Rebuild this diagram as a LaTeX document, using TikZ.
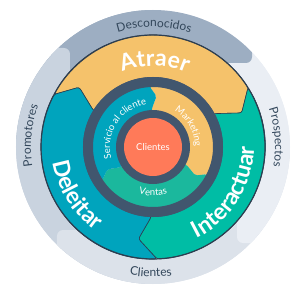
\documentclass[tikz,border=0pt]{standalone}
\usepackage{fontspec}
\setmainfont{Lato}
\usetikzlibrary{decorations.text}

\definecolor{atraer}{HTML}{F5C26B}
\definecolor{interact}{HTML}{00BDA5}
\definecolor{deleit}{HTML}{00A4BD}
\definecolor{ventas}{HTML}{1BB89D}
\definecolor{hub}{HTML}{41566E}
\definecolor{rim}{HTML}{2D3E50}
\definecolor{naranja}{HTML}{FF7A59}
\definecolor{descring}{HTML}{9DAEC2}
\definecolor{promring}{HTML}{C9D3DF}
\definecolor{cliring}{HTML}{DCE2EA}
\definecolor{prosring}{HTML}{EAEEF4}
\definecolor{ink}{HTML}{33475B}

\newcommand\wheelfont{\fontsize{23}{25}\selectfont\bfseries}
\newcommand\ringfont{\fontsize{12}{14}\selectfont}
\newcommand\smallfont{\fontsize{9.5}{11}\selectfont}

\begin{document}
\begin{tikzpicture}[x=1pt,y=1pt,
  bigarc/.style={decorate,decoration={text along path,text align=center,text color=white,text={|\wheelfont|#1}}},
  ringarc/.style={decorate,decoration={text along path,text align=center,text color=ink,text={|\ringfont|#1}}},
  smallarc/.style={decorate,decoration={text along path,text align=center,text color=white,text={|\smallfont|#1}}},
  seg/.style={fill=#1,draw=rim,line width=0.6pt,rounded corners=2.5pt}]
\useasboundingbox (-153,-153) rectangle (147,147);

%outer ring
\begin{scope}
  \clip (0,0) circle (137);
  \fill[cliring,rounded corners=6pt] (-96,-200) rectangle (200,-83);
  \fill[cliring] (0,-200) rectangle (200,0);
  \fill[prosring,rounded corners=6pt] (84,-96) rectangle (200,200);
  \fill[prosring] (0,0) rectangle (200,200);
  \fill[descring,rounded corners=6pt] (-200,84) rectangle (99,200);
  \fill[descring] (-200,0) rectangle (0,200);
  \fill[promring,rounded corners=6pt] (-200,-200) rectangle (-83,99);
  \fill[promring] (-200,-200) rectangle (0,0);
  \clip (-200,-200) rectangle (0,0);
  \fill[cliring,rounded corners=6pt] (-96,-200) rectangle (200,-83);
\end{scope}

%flywheel
  \coordinate (J1o) at (32:112);
  \coordinate (J1t) at (21:95);
  \coordinate (J1i) at (28.5:70);
  \coordinate (J2o) at (152:112);
  \coordinate (J2t) at (141:95);
  \coordinate (J2i) at (148.5:70);
  \coordinate (J3o) at (272:112);
  \coordinate (J3t) at (261:93);
  \coordinate (J3i) at (268.5:70);
  \path[seg=atraer] (J2o) arc[start angle=152,end angle=32,radius=112] -- (J1t) -- (J1i)
    -- (28.5:62) arc[start angle=28.5,end angle=148.5,radius=62] -- (J2i) -- (J2t) -- cycle;
  \path[seg=interact] (J1o) arc[start angle=32,end angle=-88,radius=112] -- (J3t) -- (J3i)
    -- (-91.5:62) arc[start angle=-91.5,end angle=28.5,radius=62] -- (J1i) -- (J1t) -- cycle;
  \path[seg=deleit] (J3o) arc[start angle=-88,end angle=-208,radius=112] -- (J2t) -- (J2i)
    -- (148.5:62) arc[start angle=-211.5,end angle=-91.5,radius=62] -- (J3i) -- (J3t) -- cycle;
  \draw[rim,line width=1.2pt] (0,0) circle (112);
  \draw[hub,line width=10pt] (0,0) circle (65);

%inner ring
  \coordinate (K1o) at (93:60);
  \coordinate (K1t) at (86:51);
  \coordinate (K1i) at (92:38);
  \coordinate (K2o) at (-27:60);
  \coordinate (K2t) at (-34:51);
  \coordinate (K2i) at (-28:38);
  \coordinate (K3o) at (213:60);
  \coordinate (K3t) at (206:51);
  \coordinate (K3i) at (212:38);
  \fill[atraer,rounded corners=2pt] (93:63) arc[start angle=93,end angle=-27,radius=63] -- (K2o) -- (K2t) -- (K2i)
    -- (-28:33) arc[start angle=-28,end angle=92,radius=33] -- (K1i) -- (K1t) -- (K1o) -- cycle;
  \fill[ventas,rounded corners=2pt] (-27:63) arc[start angle=-27,end angle=-147,radius=63] -- (K3o) -- (K3t) -- (K3i)
    -- (-148:33) arc[start angle=-148,end angle=-28,radius=33] -- (K2i) -- (K2t) -- (K2o) -- cycle;
  \fill[deleit,rounded corners=2pt] (213:63) arc[start angle=213,end angle=93,radius=63] -- (K1o) -- (K1t) -- (K1i)
    -- (92:33) arc[start angle=92,end angle=212,radius=33] -- (K3i) -- (K3t) -- (K3o) -- cycle;
  \draw[hub,line width=10pt] (0,0) circle (65);
  \fill[hub] (0,0) circle (37);
  \fill[naranja] (0,0) circle (29);
  \node[text=white,font=\smallfont] (centro) at (0,0) {Clientes};

%labels
  \path[ringarc=Desconocidos] (120:120) arc[start angle=120,end angle=59,radius=120];
  \path[ringarc=Prospectos] (34.5:122) arc[start angle=34.5,end angle=-25.5,radius=122];
  \path[ringarc=Promotores] (204.5:122) arc[start angle=204.5,end angle=144.5,radius=122];
  \path[ringarc=Clientes] (239:130) arc[start angle=239,end angle=299,radius=130];
  \path[bigarc=Atraer] (129:81) arc[start angle=129,end angle=49,radius=81];
  \path[bigarc=Interactuar] (-77:101) arc[start angle=-77,end angle=13,radius=101];
  \path[bigarc=Deleitar] (172:101) arc[start angle=172,end angle=252,radius=101];
  \path[smallarc=Servicio al cliente] (207:43) arc[start angle=207,end angle=87,radius=43];
  \path[smallarc=Marketing] (65:42) arc[start angle=65,end angle=-5,radius=42];
  \path[smallarc=Ventas] (240:49) arc[start angle=240,end angle=300,radius=49];
\end{tikzpicture}
\end{document}
